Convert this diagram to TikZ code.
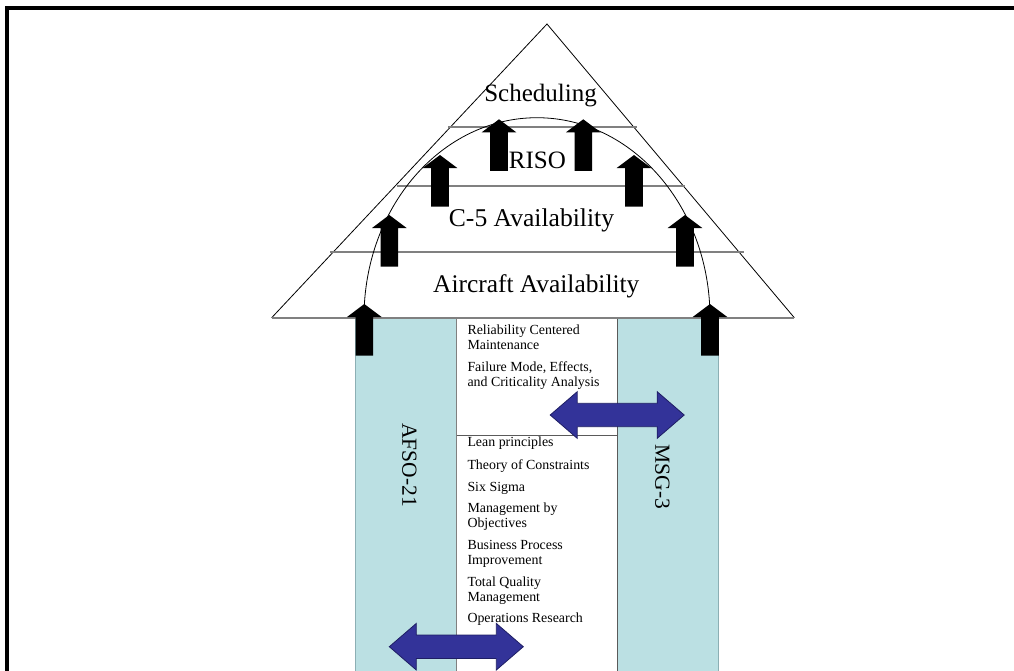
\documentclass[tikz,border=0pt]{standalone}
\usepackage{fontspec}
\setmainfont{Liberation Serif}
\definecolor{colblue}{RGB}{187,224,227}
\definecolor{coledge}{RGB}{140,175,180}
\definecolor{navy}{RGB}{51,51,153}
\definecolor{navyedge}{RGB}{30,30,100}
\definecolor{midgray}{RGB}{128,128,128}
\definecolor{darkline}{RGB}{90,90,90}
\tikzset{
  bigtxt/.style={inner sep=0pt, anchor=base},
  smalltxt/.style={font=\fontsize{13.9}{15}\selectfont, inner sep=0pt, anchor=base west},
  vtxt/.style={font=\fontsize{21.5}{25}\selectfont, rotate=-90, inner sep=0pt},
  layerline/.style={draw=midgray, line width=1.6pt},
  triedge/.style={draw=black, line width=0.8pt},
  colbox/.style={fill=colblue, draw=coledge, line width=0.6pt},
  uparrow/.pic={\fill[black] (0,0) -- (17.3,13) -- (8.8,13) -- (8.8,51.5) -- (-8.8,51.5) -- (-8.8,13) -- (-17.3,13) -- cycle;},
  dblarrow/.pic={\filldraw[fill=navy, draw=navyedge, line width=0.8pt] (-67,0) -- (-40,-23.3) -- (-40,-11.7) -- (40,-11.7) -- (40,-23.3) -- (67,0) -- (40,23.3) -- (40,11.7) -- (-40,11.7) -- (-40,23.3) -- cycle;}
}
\begin{document}
\begin{tikzpicture}[x=1pt,y=-1pt]
\useasboundingbox (0,0) rectangle (1014,670);
% frame
\coordinate (fbl) at (7,672);
\coordinate (ftl) at (7,8);
\coordinate (ftr) at (1016,8);
\draw[line width=3.5pt] (fbl) -- (ftl) -- (ftr);
% columns
\path[colbox] (355.7,317.7) rectangle (456.7,672);
\path[colbox] (617.3,317.7) rectangle (718.7,672);
\coordinate (mtl) at (456.7,317.7);
\coordinate (mbl) at (456.7,672);
\coordinate (mtr) at (617.3,317.7);
\coordinate (mbr) at (617.3,672);
\coordinate (mml) at (456.7,435.7);
\coordinate (mmr) at (617.3,435.7);
\draw[draw=midgray, line width=1.2pt] (mtl) -- (mbl);
\draw[draw=darkline, line width=1.2pt] (mtr) -- (mbr);
\draw[draw=darkline, line width=1.2pt] (mml) -- (mmr);
% triangle
\coordinate (apex) at (547,24);
\coordinate (tl) at (271.7,317.7);
\coordinate (tr) at (794.3,317.7);
\draw[triedge] (tl) -- (apex) -- (tr);
\draw[layerline] (tl) -- (tr);
\coordinate (l1a) at (448.3,126.7); \coordinate (l1b) at (636.7,126.7);
\coordinate (l2a) at (397.3,185.7); \coordinate (l2b) at (685,185.7);
\coordinate (l3a) at (330,251.7);   \coordinate (l3b) at (744,251.7);
\draw[layerline] (l1a) -- (l1b);
\draw[layerline] (l2a) -- (l2b);
\draw[layerline] (l3a) -- (l3b);
% arc
\coordinate (arcstart) at (364,317.7);
\draw[black, line width=0.8pt] (arcstart) arc[start angle=180, end angle=360, x radius=173, y radius=200];
% black arrows
\pic at (364.3,304) {uparrow};
\pic at (710,304) {uparrow};
\pic at (389.3,215) {uparrow};
\pic at (685,215) {uparrow};
\pic at (440,155) {uparrow};
\pic at (634,155) {uparrow};
\pic at (499,119.3) {uparrow};
\pic at (583.3,119.3) {uparrow};
% triangle texts
\node[bigtxt, font=\fontsize{25}{30}\selectfont] (sched) at (540.5,101.7) {Scheduling};
\node[bigtxt, font=\fontsize{25}{30}\selectfont] (riso) at (537.4,168.3) {RISO};
\node[bigtxt, font=\fontsize{25.6}{30}\selectfont] (c5) at (531.5,226.7) {C-5 Availability};
\node[bigtxt, font=\fontsize{25.4}{30}\selectfont] (aa) at (536.3,292.7) {Aircraft Availability};
% vertical texts
\node[vtxt] (afso) at (409.3,465) {AFSO-21};
\node[vtxt] (msg) at (662.5,476.7) {MSG-3};
% list texts
\node[smalltxt] (t1) at (467.3,334) {Reliability Centered};
\node[smalltxt] (t2) at (467.3,349) {Maintenance};
\node[smalltxt] (t3) at (467.3,371.7) {Failure Mode, Effects,};
\node[smalltxt] (t4) at (467.3,386) {and Criticality Analysis};
\node[smalltxt] (t5) at (467.3,446.7) {Lean principles};
\node[smalltxt] (t6) at (467.3,469) {Theory of Constraints};
\node[smalltxt] (t7) at (467.3,491) {Six Sigma};
\node[smalltxt] (t8) at (467.3,512.7) {Management by};
\node[smalltxt] (t9) at (467.3,527.3) {Objectives};
\node[smalltxt] (t10) at (467.3,549.7) {Business Process};
\node[smalltxt] (t11) at (467.3,564.3) {Improvement};
\node[smalltxt] (t12) at (467.3,586.7) {Total Quality};
\node[smalltxt] (t13) at (467.3,601) {Management};
\node[smalltxt] (t14) at (467.3,622.7) {Operations Research};
% blue double arrows
\pic at (617.2,415) {dblarrow};
\pic at (456.3,646.7) {dblarrow};
\end{tikzpicture}
\end{document}
